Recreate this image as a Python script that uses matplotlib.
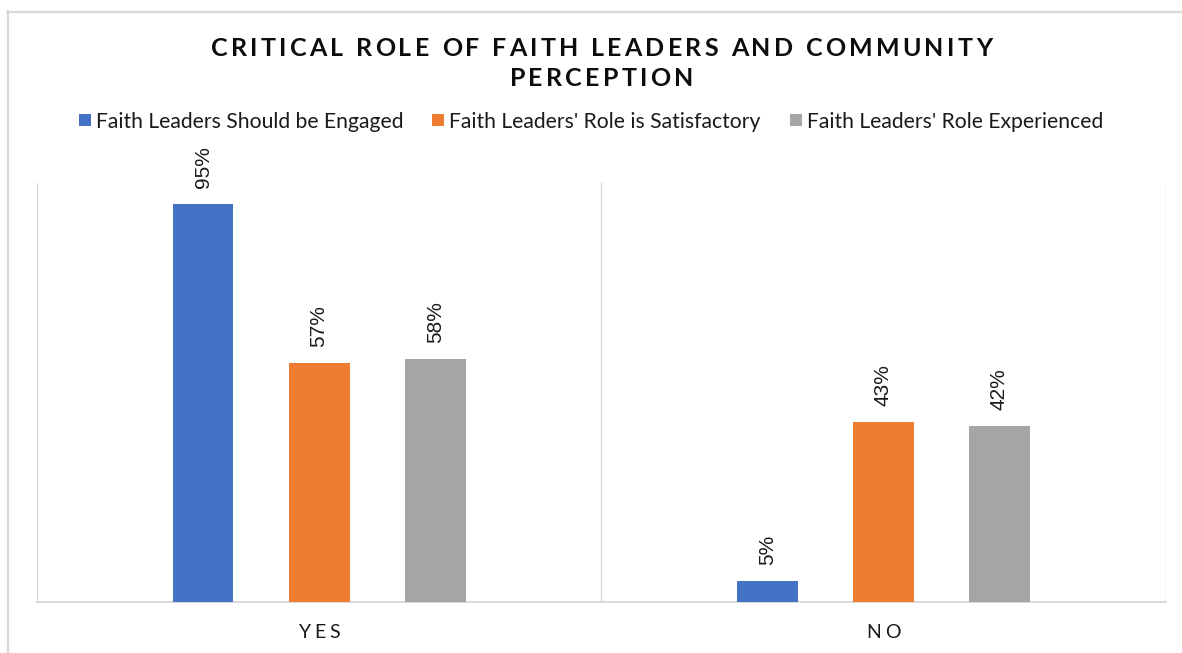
import matplotlib
matplotlib.use("Agg")
import matplotlib.pyplot as plt
import numpy as np
from matplotlib.font_manager import FontProperties, findfont, get_font
from matplotlib.transforms import ScaledTranslation, blended_transform_factory
from matplotlib.lines import Line2D

# ---- data ----
categories = ["YES", "NO"]
series_names = [
    "Faith Leaders Should be Engaged",
    "Faith Leaders' Role is Satisfactory",
    "Faith Leaders' Role Experienced",
]
engaged = [95, 5]
satisfactory = [57, 43]
experienced = [58, 42]
series_values = [engaged, satisfactory, experienced]
colors = ["#4472C4", "#ED7D31", "#A5A5A5"]
title_lines = ["CRITICAL ROLE OF FAITH LEADERS AND COMMUNITY", "PERCEPTION"]

W, H, DPI = 1182, 653, 100
fig = plt.figure(figsize=(W / DPI, H / DPI), dpi=DPI)
FAMILY = "Lato"
LABEL_FAMILY = ["Liberation Sans", "DejaVu Sans"]
GRID = "#d9d9d9"
TEXT = "#1a1a1a"


def px(x, y):
    """pixel coordinates (origin top-left) -> figure fraction"""
    return x / W, 1 - y / H


def spaced_text(x, y, s, transform, size, weight="normal", spacing=0.0,
                color=TEXT, va="baseline"):
    """Draw a string centred on (x, y) with extra tracking between letters."""
    prop = FontProperties(family=FAMILY, size=size, weight=weight)
    font = get_font(findfont(prop))
    font.set_size(size, 72)
    advs = [font.load_char(ord(c)).linearHoriAdvance / 65536 for c in s]
    total = sum(advs) + spacing * (len(s) - 1)
    off = -total / 2
    for c, a in zip(s, advs):
        tr = transform + ScaledTranslation(off / 72, 0, fig.dpi_scale_trans)
        fig.text(x, y, c, transform=tr, fontproperties=prop, color=color,
                 ha="left", va=va)
        off += a + spacing


# outer chart frame
fig.add_artist(Line2D([7 / W, 1.0], [1 - 11.5 / H] * 2, transform=fig.transFigure,
                      color=GRID, lw=1.6))
fig.add_artist(Line2D([8 / W] * 2, [0.0, 1 - 11 / H], transform=fig.transFigure,
                      color=GRID, lw=1.6))

# plot area
left, right, top, bottom = 37, 1165.5, 183, 601.5
ax = fig.add_axes([left / W, 1 - bottom / H, (right - left) / W, (bottom - top) / H])
ax.set_xlim(-0.5, len(categories) - 0.5)
ax.set_ylim(0, 100)

x = np.arange(len(categories))
offsets = [-0.2058, 0.0, 0.2058]
bar_w = 0.108
for vals, off, col in zip(series_values, offsets, colors):
    bars = ax.bar(x + off, vals, width=bar_w, color=col, zorder=3)
    for b, v in zip(bars, vals):
        ax.annotate(f"{v}%", (b.get_x() + b.get_width() / 2, v),
                    xytext=(0, 11.5), textcoords="offset points",
                    rotation=90, ha="center", va="bottom",
                    fontfamily=LABEL_FAMILY, fontsize=15, color=TEXT)

for xv in np.arange(-0.5, len(categories), 1.0):
    ax.axvline(xv, color=GRID, lw=1.0, zorder=1)

for s in ["top", "right", "left"]:
    ax.spines[s].set_visible(False)
ax.spines["bottom"].set_color(GRID)
ax.spines["bottom"].set_linewidth(1.4)
ax.set_yticks([])
ax.set_xticks([])

# category labels with tracking
cat_tr = blended_transform_factory(ax.transData, fig.transFigure)
for xi, cat in zip(x, categories):
    spaced_text(xi, 1 - 638.5 / H, cat, cat_tr, size=14, spacing=2.4)

# title
tx, _ = px(601.5, 0)
spaced_text(tx, 1 - 55.5 / H, title_lines[0], fig.transFigure, size=18,
            weight="bold", spacing=2.35, color="#0d0d0d")
spaced_text(tx, 1 - 85.5 / H, title_lines[1], fig.transFigure, size=18,
            weight="bold", spacing=2.35, color="#0d0d0d")

# legend
legend_x = [79, 432, 790]
for lx, name, col in zip(legend_x, series_names, colors):
    fx, fy = px(lx, 126)
    fig.add_artist(plt.Rectangle((fx, fy), 11.5 / W, 11.5 / H,
                                 transform=fig.transFigure, color=col, lw=0))
    tx2, ty2 = px(lx + 17, 127.5)
    fig.text(tx2, ty2, name, fontfamily=FAMILY, fontsize=15.2, color=TEXT,
             ha="left", va="baseline")

fig.savefig("out.png", dpi=DPI)
